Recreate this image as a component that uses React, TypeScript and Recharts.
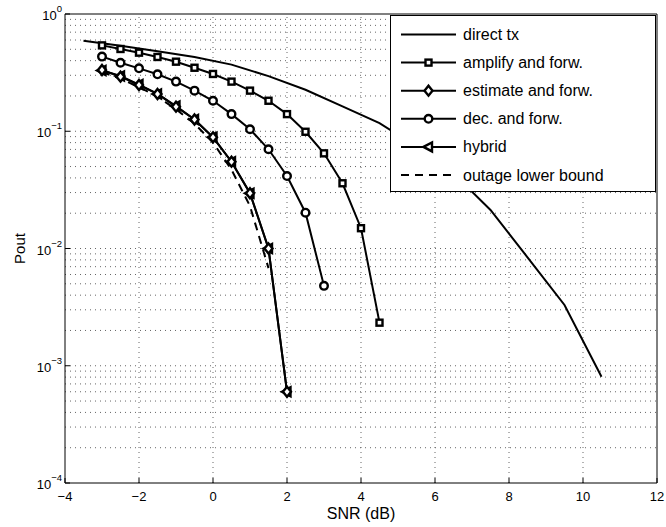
import React from 'react';
import { LineChart, Line, XAxis, YAxis, ReferenceLine, Legend } from 'recharts';

// ---------- data ----------
const snrDirect = [-3.5, -2.5, -1.5, -0.5, 0.5, 1.5, 2.5, 3.5, 4.5, 5.5, 6.5, 7.5, 8.5, 9.5, 10.5];
const poutDirect = [0.592, 0.535, 0.481, 0.429, 0.37, 0.295, 0.226, 0.163, 0.1175, 0.0741, 0.0437, 0.0213, 0.00841, 0.0033, 0.000807];

const snrAF = [-3, -2.5, -2, -1.5, -1, -0.5, 0, 0.5, 1, 1.5, 2, 2.5, 3, 3.5, 4, 4.5];
const poutAF = [0.54, 0.503, 0.468, 0.43, 0.392, 0.348, 0.308, 0.265, 0.222, 0.182, 0.14, 0.099, 0.0648, 0.036, 0.0149, 0.00233];

const snrEF = [-3, -2.5, -2, -1.5, -1, -0.5, 0, 0.5, 1, 1.5, 2];
const poutEF = [0.333, 0.292, 0.248, 0.208, 0.162, 0.126, 0.0888, 0.055, 0.0296, 0.01, 0.0006];

const snrDF = [-3, -2.5, -2, -1.5, -1, -0.5, 0, 0.5, 1, 1.5, 2, 2.5, 3];
const poutDF = [0.433, 0.384, 0.344, 0.306, 0.265, 0.222, 0.182, 0.14, 0.104, 0.0702, 0.0415, 0.0202, 0.0048];

const snrHybrid = [-3, -2.5, -2, -1.5, -1, -0.5, 0, 0.5, 1, 1.5, 2];
const poutHybrid = [0.33, 0.296, 0.25, 0.208, 0.164, 0.126, 0.089, 0.055, 0.0296, 0.01, 0.0006];

const snrBound = [-3, -2.5, -2, -1.5, -1, -0.5, 0, 0.5, 1, 1.5];
const poutBound = [0.32, 0.28, 0.238, 0.197, 0.154, 0.116, 0.08, 0.047, 0.023, 0.0068];

const xTicks = [-4, -2, 0, 2, 4, 6, 8, 10, 12];
const yTicks = [1e-4, 1e-3, 1e-2, 1e-1, 1];
const yTickExponents = ['\u22124', '\u22123', '\u22122', '\u22121', '0'];
const xGridValues = [-2, 0, 2, 4, 6, 8, 10];
const yMajorGrid = [1e-3, 1e-2, 1e-1];
const yMinorMantissas = [2, 3, 4, 5, 6, 7, 8, 9];
const yMinorDecades = [1e-4, 1e-3, 1e-2, 1e-1];

const legendLabels = ['direct tx', 'amplify and forw.', 'estimate and forw.', 'dec. and forw.', 'hybrid', 'outage lower bound'];

const zip = (xs: number[], ys: number[]) => xs.map((x, i) => ({ x, y: ys[i] }));

const dataDirect = zip(snrDirect, poutDirect);
const dataAF = zip(snrAF, poutAF);
const dataEF = zip(snrEF, poutEF);
const dataDF = zip(snrDF, poutDF);
const dataHybrid = zip(snrHybrid, poutHybrid);
const dataBound = zip(snrBound, poutBound);

const FONT = '"Liberation Sans", Arial, Helvetica, sans-serif';

// ---------- markers ----------
type MK = 'square' | 'diamond' | 'circle' | 'triangle' | 'none';

const markerShape = (kind: MK, cx: number, cy: number, key?: string) => {
  const common = { fill: '#fff', stroke: '#000', strokeWidth: 2.4 };
  switch (kind) {
    case 'square':
      return <rect key={key} x={cx - 3} y={cy - 3} width={6} height={6} {...common} />;
    case 'diamond':
      return <polygon key={key} points={`${cx},${cy - 5} ${cx + 4},${cy} ${cx},${cy + 5} ${cx - 4},${cy}`} {...common} />;
    case 'circle':
      return <circle key={key} cx={cx} cy={cy} r={3.8} {...common} />;
    case 'triangle':
      return <polygon key={key} points={`${cx - 5},${cy} ${cx + 3.5},${cy - 4.5} ${cx + 3.5},${cy + 4.5}`} {...common} />;
    default:
      return null;
  }
};

const dotRenderer = (kind: MK) => (p: any) => {
  const key = `${kind}-${p.index}`;
  if (p.cx == null || p.cy == null) return <g key={key} />;
  return markerShape(kind, p.cx, p.cy, key) as any;
};

// ---------- ticks ----------
const XTick = (p: any) => {
  const { x, y, payload } = p;
  const v = payload.value as number;
  const label = v < 0 ? '\u2212' + Math.abs(v) : String(v);
  return (
    <g>
      <line x1={x} y1={y} x2={x} y2={y - 5} stroke="#000" strokeWidth={1} />
      <text x={x} y={y + 18} textAnchor="middle" fontSize={13} fontFamily={FONT} fill="#000">{label}</text>
    </g>
  );
};

const YTick = (p: any) => {
  const { x, y, payload } = p;
  const idx = yTicks.indexOf(payload.value);
  const exp = yTickExponents[idx] ?? '';
  return (
    <g>
      <line x1={x} y1={y} x2={x + 5} y2={y} stroke="#000" strokeWidth={1} />
      <text x={x - 3} y={y + 6} textAnchor="end" fontSize={13} fontFamily={FONT} fill="#000">
        <tspan>10</tspan>
        <tspan dy={-8} fontSize={9.5}>{exp}</tspan>
      </text>
    </g>
  );
};

// ---------- legend ----------
const legendMarkers: MK[] = ['none', 'square', 'diamond', 'circle', 'triangle', 'none'];
const LegendBox = () => {
  const w = 266;
  const h = 177;
  const rows = legendLabels.map((lab, i) => {
    const cy = 18.5 + i * 28.1;
    const dashed = i === 5;
    return (
      <g key={lab}>
        <line x1={10} y1={cy} x2={65} y2={cy} stroke="#000" strokeWidth={2} strokeDasharray={dashed ? '8 6' : undefined} />
        {markerShape(legendMarkers[i], 37.5, cy)}
        <text x={72} y={cy + 5.5} fontSize={16} fontFamily={FONT} fill="#000">{lab}</text>
      </g>
    );
  });
  return (
    <div style={{ width: w, height: h, boxSizing: 'border-box', border: '1px solid #000', background: '#fff' }}>
      <svg width={w - 2} height={h - 2} style={{ display: 'block' }}>{rows}</svg>
    </div>
  );
};

const gridStroke = '#666';
const gridDash = '1 4';

export default function App() {
  const minorVals: number[] = [];
  yMinorDecades.forEach((d) => yMinorMantissas.forEach((m) => minorVals.push(d * m)));

  return (
    <div style={{ width: 666, height: 527, fontFamily: FONT, background: '#fff' }}>
      <style>{'html,body{margin:0;padding:0;overflow:hidden;background:#fff}'}</style>
      <LineChart width={666} height={527} margin={{ top: 14, right: 9, left: 15, bottom: 4 }}>
        <XAxis
          dataKey="x"
          type="number"
          domain={[-4, 12]}
          ticks={xTicks}
          allowDataOverflow
          axisLine={{ stroke: '#000', strokeWidth: 1 }}
          tickLine={false}
          tickSize={0}
          tickMargin={0}
          tick={<XTick />}
          height={40}
          label={{ value: 'SNR (dB)', position: 'insideBottom', offset: 4, style: { fontSize: 16, fontFamily: FONT, fill: '#000' } }}
        />
        <YAxis
          dataKey="y"
          type="number"
          scale="log"
          domain={[1e-4, 1]}
          ticks={yTicks}
          allowDataOverflow
          axisLine={{ stroke: '#000', strokeWidth: 1 }}
          tickLine={false}
          tickSize={0}
          tickMargin={0}
          tick={<YTick />}
          width={50}
          label={{ value: 'Pout', angle: -90, position: 'insideLeft', offset: 5, style: { fontSize: 15, fontFamily: FONT, fill: '#000', textAnchor: 'middle' } }}
        />
        {xGridValues.map((v) => (
          <ReferenceLine key={`vx${v}`} x={v} stroke={gridStroke} strokeDasharray={gridDash} />
        ))}
        {yMajorGrid.map((v) => (
          <ReferenceLine key={`hy${v}`} y={v} stroke={gridStroke} strokeDasharray={gridDash} />
        ))}
        {minorVals.map((v, i) => (
          <ReferenceLine key={`hm${i}`} y={v} stroke={gridStroke} strokeDasharray={gridDash} />
        ))}
        <ReferenceLine x={12} stroke="#000" strokeWidth={1} />
        <ReferenceLine y={1} stroke="#000" strokeWidth={1} />

        <Line data={dataDirect} dataKey="y" type="linear" stroke="#000" strokeWidth={2} dot={false} isAnimationActive={false} name={legendLabels[0]} />
        <Line data={dataAF} dataKey="y" type="linear" stroke="#000" strokeWidth={2} dot={dotRenderer('square')} isAnimationActive={false} name={legendLabels[1]} />
        <Line data={dataHybrid} dataKey="y" type="linear" stroke="#000" strokeWidth={2} dot={dotRenderer('triangle')} isAnimationActive={false} name={legendLabels[4]} />
        <Line data={dataEF} dataKey="y" type="linear" stroke="#000" strokeWidth={2} dot={dotRenderer('diamond')} isAnimationActive={false} name={legendLabels[2]} />
        <Line data={dataDF} dataKey="y" type="linear" stroke="#000" strokeWidth={2} dot={dotRenderer('circle')} isAnimationActive={false} name={legendLabels[3]} />
        <Line data={dataBound} dataKey="y" type="linear" stroke="#000" strokeWidth={2} strokeDasharray="8 6" dot={false} isAnimationActive={false} name={legendLabels[5]} />

        <Legend
          layout="vertical"
          align="center"
          verticalAlign="middle"
          wrapperStyle={{ left: 390, top: 15, width: 266, height: 177 }}
          content={() => <LegendBox />}
        />
      </LineChart>
    </div>
  );
}
